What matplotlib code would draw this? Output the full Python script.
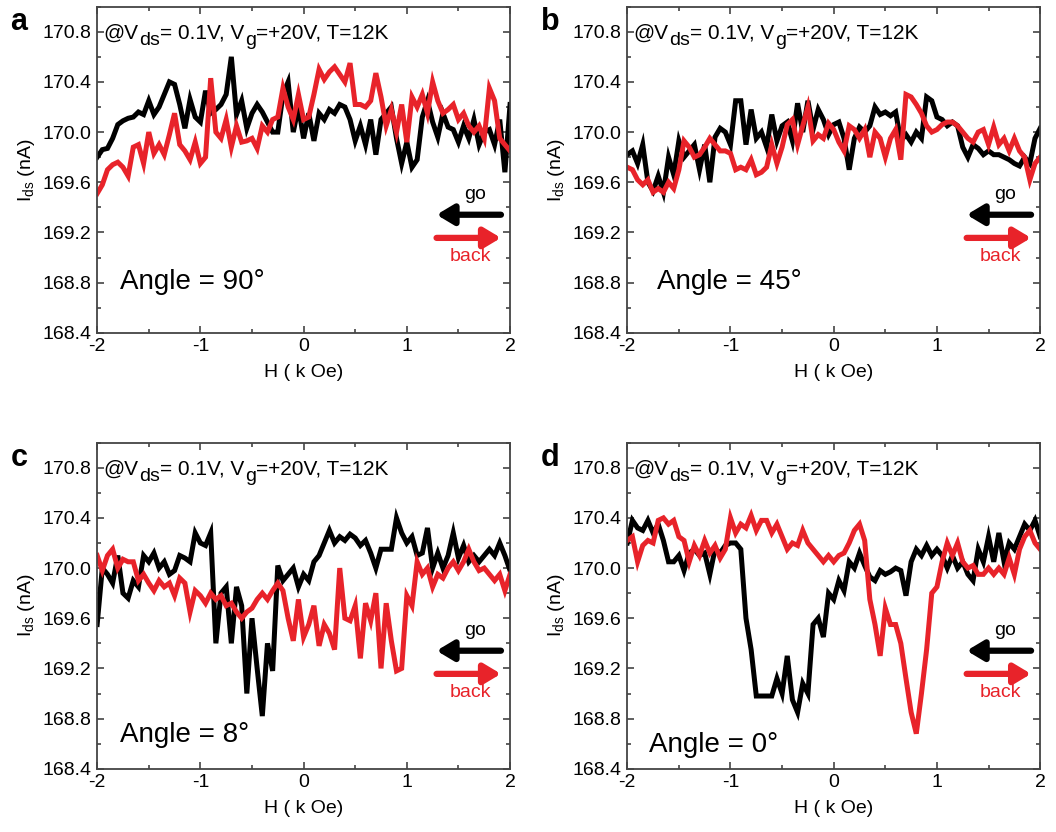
import numpy as np
import matplotlib
matplotlib.use('Agg')
import matplotlib.pyplot as plt
from matplotlib.ticker import MultipleLocator

plt.rcParams['font.family'] = ['Liberation Sans', 'DejaVu Sans']
plt.rcParams['mathtext.fontset'] = 'custom'
plt.rcParams['mathtext.rm'] = 'Liberation Sans'
plt.rcParams['mathtext.it'] = 'Liberation Sans'
plt.rcParams['axes.unicode_minus'] = False

# field sweep currents (nA), sampled every 0.05 kOe from -2 to 2
go_90 = [169.80, 169.86, 169.87, 169.95, 170.06, 170.09, 170.11, 170.12, 170.16, 170.14,
         170.25, 170.14, 170.20, 170.30, 170.40, 170.38, 170.22, 170.03, 170.26, 170.12,
         170.08, 170.33, 170.15, 170.18, 170.22, 170.30, 170.60, 170.14, 170.25, 170.03,
         170.15, 170.22, 170.16, 170.08, 170.00, 170.00, 170.30, 170.40, 170.00, 170.20,
         169.95, 170.15, 169.93, 170.15, 170.10, 170.18, 170.15, 170.22, 170.20, 170.10,
         169.93, 170.05, 169.90, 170.10, 169.82, 170.10, 170.15, 170.20, 169.95, 169.75,
         169.92, 169.72, 169.78, 170.12, 170.25, 170.08, 169.96, 170.15, 170.04, 170.02,
         169.92, 170.05, 169.95, 170.10, 169.90, 170.00, 170.02, 169.90, 170.10, 169.68,
         170.22]
back_90 = [169.51, 169.58, 169.70, 169.74, 169.76, 169.72, 169.65, 169.88, 169.90, 169.75,
           170.00, 169.83, 169.90, 169.82, 169.98, 170.15, 169.90, 169.85, 169.78, 169.92,
           169.75, 169.80, 170.43, 170.00, 169.95, 170.10, 169.88, 170.05, 169.92, 169.93,
           169.95, 169.87, 170.05, 170.00, 170.10, 170.12, 170.35, 170.20, 170.10, 170.30,
           170.10, 170.12, 170.30, 170.50, 170.42, 170.48, 170.52, 170.46, 170.40, 170.55,
           170.22, 170.22, 170.20, 170.25, 170.47, 170.28, 170.05, 170.18, 170.00, 170.22,
           169.92, 170.28, 170.20, 170.30, 170.15, 170.40, 170.25, 170.15, 170.18, 170.22,
           170.10, 170.15, 170.05, 170.00, 170.05, 169.95, 170.35, 170.25, 169.95, 169.90,
           169.85]

go_45 = [169.82, 169.85, 169.75, 169.90, 169.60, 169.53, 169.65, 169.52, 169.80, 169.66,
         169.93, 169.80, 169.85, 169.90, 169.70, 169.90, 169.60, 169.96, 170.03, 170.00,
         169.90, 170.25, 170.25, 169.90, 170.18, 169.95, 170.00, 169.88, 170.14, 169.93,
         170.05, 170.08, 169.93, 170.23, 170.00, 170.25, 170.02, 170.18, 170.10, 169.98,
         170.06, 170.08, 169.95, 169.70, 169.95, 170.04, 170.00, 170.05, 170.20, 170.14,
         170.16, 170.13, 170.16, 169.93, 169.98, 169.92, 170.00, 169.95, 170.28, 170.25,
         170.12, 170.10, 170.05, 170.08, 170.05, 169.88, 169.80, 169.90, 169.87, 169.82,
         169.85, 169.82, 169.82, 169.80, 169.78, 169.75, 169.73, 169.80, 169.75, 169.95,
         170.03]
back_45 = [169.72, 169.70, 169.62, 169.58, 169.62, 169.52, 169.55, 169.52, 169.60, 169.55,
           169.70, 169.93, 169.88, 169.80, 169.82, 169.88, 169.95, 169.90, 169.85, 169.85,
           169.83, 169.70, 169.72, 169.70, 169.78, 169.66, 169.68, 169.72, 169.90, 169.75,
           169.88, 170.06, 170.10, 169.90, 170.05, 170.20, 169.93, 169.98, 169.95, 170.07,
           170.02, 169.92, 169.85, 170.05, 170.02, 169.95, 170.02, 169.80, 170.00, 169.95,
           169.80, 169.95, 170.02, 169.78, 170.30, 170.28, 170.22, 170.15, 170.05, 170.00,
           170.02, 170.06, 170.08, 170.08, 170.05, 170.00, 169.95, 169.92, 170.00, 170.02,
           169.90, 170.04, 169.90, 169.95, 169.85, 169.95, 169.85, 169.80, 169.62, 169.75,
           169.80]

go_8 = [169.55, 170.00, 169.95, 169.88, 170.10, 169.80, 169.76, 169.90, 169.85, 170.10,
        170.05, 170.12, 170.00, 170.05, 169.95, 169.98, 170.10, 170.08, 170.05, 170.28,
        170.20, 170.18, 170.28, 169.40, 169.80, 169.85, 169.40, 169.85, 169.70, 169.00,
        169.60, 169.20, 168.82, 169.40, 169.18, 170.02, 169.90, 169.95, 170.00, 169.85,
        169.95, 169.90, 170.05, 170.10, 170.20, 170.30, 170.20, 170.25, 170.22, 170.27,
        170.24, 170.18, 170.22, 170.12, 170.00, 170.15, 170.15, 170.15, 170.40, 170.28,
        170.20, 170.25, 170.10, 170.12, 170.32, 170.00, 170.12, 170.00, 170.10, 170.28,
        170.08, 170.18, 170.05, 170.10, 170.05, 170.10, 170.15, 170.10, 170.20, 170.10,
        169.98]
back_8 = [170.10, 169.98, 170.10, 170.15, 170.00, 170.07, 170.05, 170.05, 169.90, 169.95,
          169.88, 169.82, 169.90, 169.85, 169.88, 169.78, 169.92, 169.88, 169.65, 169.82,
          169.78, 169.72, 169.80, 169.75, 169.78, 169.70, 169.72, 169.65, 169.60, 169.65,
          169.68, 169.75, 169.80, 169.75, 169.82, 169.88, 169.82, 169.60, 169.42, 169.75,
          169.45, 169.55, 169.70, 169.38, 169.55, 169.48, 169.35, 170.00, 169.60, 169.58,
          169.70, 169.28, 169.72, 169.58, 169.80, 169.20, 169.72, 169.42, 169.18, 169.20,
          169.78, 169.70, 170.05, 169.95, 170.00, 169.85, 169.95, 169.92, 170.00, 170.05,
          169.98, 170.05, 170.15, 170.05, 169.98, 170.00, 169.95, 169.90, 169.95, 169.82,
          169.95]

go_0 = [170.20, 170.38, 170.32, 170.30, 170.38, 170.28, 170.35, 170.22, 170.05, 170.05,
        170.10, 169.98, 170.12, 170.15, 170.10, 170.12, 169.95, 170.15, 170.12, 170.18,
        170.20, 170.20, 170.15, 169.60, 169.35, 168.98, 168.98, 168.98, 168.98, 169.12,
        169.00, 169.30, 168.95, 168.85, 169.08, 169.00, 169.55, 169.60, 169.45, 169.80,
        169.75, 169.90, 169.82, 170.05, 170.00, 170.12, 170.02, 169.93, 169.90, 169.98,
        169.95, 169.97, 170.00, 169.98, 169.78, 170.05, 170.15, 170.10, 170.18, 170.10,
        170.15, 170.10, 170.00, 170.10, 170.00, 170.05, 169.95, 169.90, 170.15, 170.05,
        170.25, 170.05, 170.28, 170.05, 170.20, 170.15, 170.25, 170.35, 170.30, 170.38,
        170.25]
back_0 = [170.22, 170.25, 170.05, 170.18, 170.22, 170.20, 170.38, 170.40, 170.35, 170.38,
          170.25, 170.22, 170.05, 170.18, 170.10, 170.22, 170.12, 170.18, 170.08, 170.15,
          170.40, 170.28, 170.35, 170.32, 170.42, 170.30, 170.38, 170.38, 170.28, 170.35,
          170.25, 170.15, 170.20, 170.18, 170.30, 170.20, 170.15, 170.10, 170.05, 170.10,
          170.05, 170.10, 170.12, 170.20, 170.30, 170.35, 170.22, 169.75, 169.55, 169.30,
          169.68, 169.55, 169.55, 169.40, 169.12, 168.85, 168.68, 169.00, 169.35, 169.80,
          169.85, 170.05, 170.20, 170.10, 170.20, 170.05, 170.00, 170.02, 169.95, 169.95,
          170.00, 169.95, 170.00, 169.95, 170.08, 169.95, 170.15, 170.25, 170.30, 170.20,
          170.15]

panel_labels = ['a', 'b', 'c', 'd']
angles = ['90', '45', '8', '0']
go_curves = [go_90, go_45, go_8, go_0]
back_curves = [back_90, back_45, back_8, back_0]
angle_pos = [(0.056, 0.156), (0.073, 0.156), (0.056, 0.104), (0.053, 0.074)]

# measurement conditions, (text, is_subscript)
header = [('@V', False), ('ds', True), ('= 0.1V, V', False), ('g', True),
          ('=+20V, T=12K', False)]

RED = '#e8232a'


def prev_dy(artist):
    return getattr(artist, '_sub_dy', 0)


def draw_header(ax):
    '''
    Write the conditions line piece by piece so subscripts stay large
    '''
    prev = ax.text(0.015, 0.903, header[0][0], transform=ax.transAxes,
                   fontsize=15, va='baseline', ha='left')
    for txt, sub in header[1:]:
        dy = -4.5 if sub else 0
        size = 14 if sub else 15
        prev = ax.annotate(txt, xy=(1, 0), xycoords=prev,
                           xytext=(0.3, dy - prev_dy(prev)), textcoords='offset points',
                           fontsize=size, va='bottom', ha='left')
        prev._sub_dy = dy


fig = plt.figure(figsize=(10.56, 8.32), dpi=100)
boxes = [(0.092, 0.600, 0.391, 0.392), (0.594, 0.600, 0.391, 0.392),
         (0.092, 0.076, 0.391, 0.392), (0.594, 0.076, 0.391, 0.392)]

for i, box in enumerate(boxes):
    ax = fig.add_axes(box)
    h_go = np.linspace(-2, 2, len(go_curves[i]))
    h_back = np.linspace(-2, 2, len(back_curves[i]))
    ax.plot(h_go, go_curves[i], color='black', lw=3.6, solid_joinstyle='miter')
    ax.plot(h_back, back_curves[i], color=RED, lw=3.6, solid_joinstyle='miter')

    ax.set_xlim(-2, 2)
    ax.set_ylim(168.4, 171.0)
    ax.set_xticks([-2, -1, 0, 1, 2])
    ax.set_yticks([168.4, 168.8, 169.2, 169.6, 170.0, 170.4, 170.8])
    ax.xaxis.set_minor_locator(MultipleLocator(0.5))
    ax.yaxis.set_minor_locator(MultipleLocator(0.2))
    ax.tick_params(which='both', direction='in', top=True, right=True,
                   labelsize=14, color='#444444', width=1.2)
    ax.tick_params(which='major', length=5, pad=4)
    ax.tick_params(which='minor', length=3)
    for sp in ax.spines.values():
        sp.set_color('#444444')
        sp.set_linewidth(1.3)

    ax.set_xlabel('H ( k Oe)', fontsize=14, labelpad=6)
    ax.set_ylabel('I$_{ds}$ (nA)', fontsize=14, labelpad=4)

    draw_header(ax)
    ax.text(angle_pos[i][0], angle_pos[i][1], 'Angle = ' + angles[i] + '°',
            transform=ax.transAxes, fontsize=20, va='center', ha='left')

    # sweep direction arrows
    ax.annotate('', xy=(0.822, 0.362), xytext=(0.978, 0.362), xycoords='axes fraction',
                arrowprops=dict(arrowstyle='-|>,head_length=1.0,head_width=0.6',
                                color='black', lw=4.5, shrinkA=0, shrinkB=0))
    ax.annotate('', xy=(0.978, 0.291), xytext=(0.822, 0.291), xycoords='axes fraction',
                arrowprops=dict(arrowstyle='-|>,head_length=1.0,head_width=0.6',
                                color=RED, lw=4.5, shrinkA=0, shrinkB=0))
    ax.text(0.915, 0.425, 'go', transform=ax.transAxes, fontsize=14,
            ha='center', va='center', color='black')
    ax.text(0.905, 0.235, 'back', transform=ax.transAxes, fontsize=14,
            ha='center', va='center', color=RED)

    fig.text(box[0] - 0.082, box[1] + box[3] - 0.018, panel_labels[i],
             fontsize=22, fontweight='bold', ha='left', va='center')

fig.savefig('out.png', dpi=100)
